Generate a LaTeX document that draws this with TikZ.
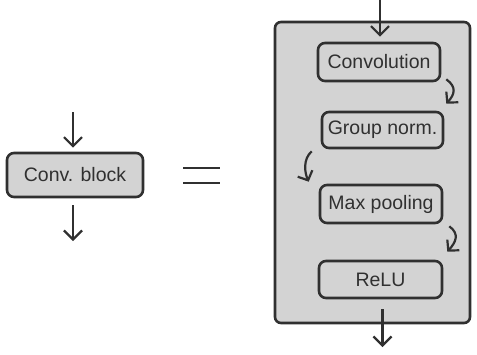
\documentclass[tikz,border=0pt]{standalone}
\usepackage{fontspec}
\setmainfont{Liberation Sans}
\usetikzlibrary{arrows.meta,calc}
\definecolor{ink}{HTML}{303030}
\definecolor{boxgray}{HTML}{D3D3D3}
\tikzset{
  blockbox/.style={draw=ink, line width=2.6pt, fill=boxgray, rounded corners=7pt,
    inner sep=0pt, text=ink, font=\fontsize{19.5}{21}\selectfont},
  outerbox/.style={draw=ink, line width=2.6pt, fill=boxgray, rounded corners=6pt, inner sep=0pt},
  flow/.style={draw=ink, line width=2.2pt, -{Straight Barb[length=9pt,width=18pt,line width=2.2pt]}},
  curvearrow/.style={draw=ink, line width=2.2pt, -{Straight Barb[length=7.5pt,width=16pt,line width=2.2pt]}},
}
\begin{document}
\begin{tikzpicture}[x=1pt,y=-1pt]
  \useasboundingbox (0,0) rectangle (477,354);

  % left: the block as a single unit
  \node[blockbox, minimum width=136pt, minimum height=44pt] (cb) at (75,175) {Conv. block};
  \coordinate (cbin) at (73,112);
  \coordinate (cbout) at (73,241);
  \draw[flow, shorten >=4pt] (cbin) -- (cbin |- cb.north);
  \draw[flow, shorten <=7pt] (cbin |- cb.south) -- (cbout);

  % equals sign
  \draw[ink, line width=2.8pt] (183,168) -- (220,168);
  \draw[ink, line width=2.8pt] (183,183) -- (220,183);

  % right: the block expanded into its layers
  \node[outerbox, minimum width=195pt, minimum height=301pt] (blk) at (372.5,172.5) {};
  \node[blockbox, minimum width=122pt, minimum height=38pt] (conv) at (379,62) {Convolution};
  \node[blockbox, minimum width=121pt, minimum height=36pt] (gn) at (382.5,130) {Group norm.};
  \node[blockbox, minimum width=122pt, minimum height=38pt] (mp) at (381,204) {Max pooling};
  \node[blockbox, minimum width=123pt, minimum height=37pt] (relu) at (380.5,279.5) {ReLU};

  \coordinate (inp) at (380,0);
  \coordinate (outp) at (382.5,347);
  \draw[flow, shorten >=5pt] (inp) -- (inp |- conv.north);
  \draw[flow, shorten <=10pt] (outp |- relu.south) -- (outp);

  % curved connectors between the layers
  \draw[curvearrow] ($(conv.south east)+(5,-3)$) .. controls +(11,8) and +(8,-9) .. ($(gn.north east)+(2,-7)$);
  \draw[curvearrow] ($(gn.south west)+(-9,2)$) .. controls +(-9,8) and +(-4,-9) .. ($(mp.north west)+(-10,-2)$);
  \draw[curvearrow] ($(mp.south east)+(6,2)$) .. controls +(11,8) and +(8,-9) .. ($(relu.north east)+(4,-8)$);
\end{tikzpicture}
\end{document}
